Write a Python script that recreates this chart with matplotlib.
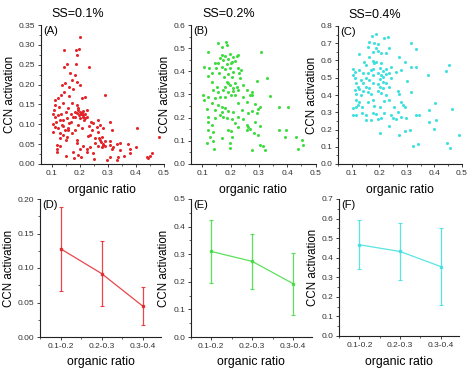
import matplotlib

matplotlib.use("Agg")
import matplotlib.pyplot as plt  # noqa: E402
from matplotlib.ticker import AutoMinorLocator, FormatStrFormatter, MultipleLocator  # noqa: E402

plt.rcParams["font.family"] = ["Liberation Sans", "DejaVu Sans"]

# ---- scatter data (organic ratio vs CCN activation) ----
a_x = [0.202, 0.146, 0.188, 0.199, 0.190, 0.154, 0.146, 0.188, 0.235, 0.166,
       0.184, 0.136, 0.148, 0.172, 0.190, 0.178, 0.164, 0.202, 0.145, 0.113,
       0.124, 0.133, 0.164, 0.208, 0.220, 0.291, 0.113, 0.128, 0.142, 0.172,
       0.190, 0.196, 0.202, 0.208, 0.214, 0.211, 0.199, 0.190, 0.184, 0.220,
       0.226, 0.178, 0.113, 0.124, 0.130, 0.116, 0.142, 0.154, 0.164, 0.113,
       0.124, 0.136, 0.148, 0.160, 0.107, 0.130, 0.142, 0.154, 0.172, 0.184,
       0.196, 0.208, 0.249, 0.261, 0.273, 0.285, 0.267, 0.238, 0.309, 0.315,
       0.279, 0.273, 0.285, 0.279, 0.267, 0.255, 0.238, 0.226, 0.214, 0.202,
       0.190, 0.404, 0.309, 0.333, 0.345, 0.321, 0.315, 0.374, 0.380, 0.402,
       0.380, 0.118, 0.118, 0.121, 0.152, 0.196, 0.204, 0.178, 0.226, 0.249,
       0.309, 0.297, 0.339, 0.333, 0.440, 0.446, 0.452, 0.458, 0.485,
       0.195, 0.205, 0.212, 0.218, 0.185, 0.215, 0.225, 0.200, 0.275, 0.283,
       0.290, 0.270, 0.290, 0.255, 0.245, 0.235, 0.230, 0.150, 0.160, 0.130,
       0.140, 0.105, 0.105, 0.110, 0.135, 0.150, 0.160, 0.170, 0.170, 0.240,
       0.265, 0.310, 0.345, 0.360, 0.250, 0.180, 0.130, 0.190]
a_y = [0.319, 0.287, 0.287, 0.289, 0.274, 0.252, 0.245, 0.253, 0.245, 0.228,
       0.224, 0.200, 0.203, 0.211, 0.207, 0.190, 0.195, 0.199, 0.182, 0.161,
       0.165, 0.174, 0.171, 0.165, 0.168, 0.174, 0.149, 0.143, 0.153, 0.153,
       0.149, 0.136, 0.132, 0.128, 0.123, 0.119, 0.123, 0.128, 0.132, 0.115,
       0.136, 0.119, 0.119, 0.123, 0.111, 0.107, 0.111, 0.115, 0.102, 0.094,
       0.090, 0.098, 0.086, 0.090, 0.081, 0.077, 0.073, 0.069, 0.077, 0.086,
       0.098, 0.090, 0.102, 0.094, 0.098, 0.090, 0.081, 0.073, 0.107, 0.086,
       0.069, 0.060, 0.048, 0.044, 0.045, 0.052, 0.044, 0.039, 0.045, 0.039,
       0.052, 0.090, 0.048, 0.050, 0.052, 0.044, 0.037, 0.050, 0.039, 0.042,
       0.027, 0.048, 0.039, 0.031, 0.020, 0.023, 0.017, 0.031, 0.031, 0.027,
       0.018, 0.010, 0.017, 0.010, 0.018, 0.014, 0.020, 0.027, 0.069,
       0.142, 0.125, 0.133, 0.126, 0.118, 0.112, 0.118, 0.115, 0.055, 0.050,
       0.045, 0.065, 0.058, 0.065, 0.085, 0.095, 0.070, 0.060, 0.085, 0.065,
       0.095, 0.100, 0.125, 0.135, 0.125, 0.130, 0.140, 0.125, 0.105, 0.105,
       0.110, 0.058, 0.035, 0.020, 0.012, 0.015, 0.045, 0.060]

b_x = [0.154, 0.182, 0.186, 0.168, 0.121, 0.307, 0.168, 0.180, 0.198, 0.210,
       0.221, 0.227, 0.162, 0.174, 0.192, 0.204, 0.215, 0.145, 0.157, 0.186,
       0.201, 0.107, 0.124, 0.147, 0.168, 0.180, 0.198, 0.227, 0.237, 0.133,
       0.159, 0.190, 0.210, 0.230, 0.121, 0.178, 0.204, 0.233, 0.327, 0.133,
       0.186, 0.192, 0.215, 0.292, 0.151, 0.180, 0.198, 0.210, 0.221, 0.245,
       0.139, 0.157, 0.174, 0.192, 0.210, 0.227, 0.257, 0.274, 0.277, 0.268,
       0.104, 0.121, 0.107, 0.145, 0.162, 0.180, 0.201, 0.215, 0.245, 0.339,
       0.133, 0.157, 0.168, 0.180, 0.227, 0.257, 0.286, 0.304, 0.115, 0.145,
       0.168, 0.162, 0.192, 0.210, 0.239, 0.263, 0.274, 0.298, 0.292, 0.371,
       0.402, 0.121, 0.145, 0.174, 0.186, 0.204, 0.227, 0.245, 0.121, 0.133,
       0.215, 0.227, 0.257, 0.263, 0.286, 0.304, 0.121, 0.139, 0.192, 0.201,
       0.257, 0.268, 0.371, 0.394, 0.284, 0.298, 0.127, 0.168, 0.204, 0.392,
       0.430, 0.451, 0.457, 0.439, 0.115, 0.139, 0.198, 0.304, 0.316, 0.142,
       0.198, 0.274, 0.321]
b_y = [0.521, 0.528, 0.514, 0.507, 0.485, 0.482, 0.471, 0.466, 0.473, 0.463,
       0.466, 0.471, 0.456, 0.449, 0.452, 0.442, 0.446, 0.435, 0.437, 0.432,
       0.435, 0.420, 0.413, 0.413, 0.420, 0.409, 0.413, 0.413, 0.406, 0.394,
       0.391, 0.389, 0.399, 0.391, 0.380, 0.377, 0.377, 0.370, 0.370, 0.355,
       0.355, 0.348, 0.351, 0.358, 0.334, 0.334, 0.341, 0.327, 0.334, 0.341,
       0.319, 0.312, 0.319, 0.312, 0.317, 0.319, 0.319, 0.312, 0.298, 0.298,
       0.298, 0.291, 0.276, 0.283, 0.291, 0.291, 0.298, 0.298, 0.291, 0.294,
       0.262, 0.255, 0.245, 0.240, 0.262, 0.269, 0.259, 0.248, 0.236, 0.233,
       0.226, 0.212, 0.230, 0.226, 0.233, 0.222, 0.230, 0.236, 0.219, 0.248,
       0.248, 0.204, 0.197, 0.204, 0.197, 0.193, 0.201, 0.193, 0.183, 0.168,
       0.176, 0.161, 0.168, 0.158, 0.183, 0.164, 0.147, 0.140, 0.147, 0.144,
       0.147, 0.150, 0.147, 0.147, 0.132, 0.125, 0.118, 0.111, 0.118, 0.118,
       0.118, 0.104, 0.082, 0.063, 0.089, 0.101, 0.092, 0.082, 0.078, 0.063,
       0.071, 0.060, 0.060]

c_x = [0.174, 0.188, 0.164, 0.182, 0.195, 0.219, 0.231, 0.158, 0.316, 0.332,
       0.125, 0.176, 0.195, 0.207, 0.225, 0.237, 0.188, 0.164, 0.271, 0.146,
       0.176, 0.182, 0.188, 0.207, 0.295, 0.150, 0.243, 0.316, 0.334, 0.104,
       0.110, 0.128, 0.170, 0.176, 0.201, 0.213, 0.225, 0.455, 0.441, 0.104,
       0.140, 0.158, 0.176, 0.195, 0.207, 0.225, 0.237, 0.261, 0.279, 0.376,
       0.110, 0.134, 0.152, 0.164, 0.201, 0.213, 0.243, 0.300, 0.116, 0.140,
       0.176, 0.195, 0.213, 0.225, 0.122, 0.152, 0.164, 0.201, 0.213, 0.237,
       0.113, 0.128, 0.142, 0.158, 0.195, 0.267, 0.316, 0.116, 0.134, 0.170,
       0.207, 0.225, 0.273, 0.116, 0.128, 0.122, 0.158, 0.176, 0.219, 0.237,
       0.279, 0.285, 0.403, 0.104, 0.116, 0.138, 0.182, 0.201, 0.255, 0.292,
       0.382, 0.465, 0.104, 0.116, 0.138, 0.152, 0.176, 0.188, 0.219, 0.243,
       0.267, 0.334, 0.346, 0.152, 0.170, 0.195, 0.207, 0.249, 0.261, 0.279,
       0.298, 0.380, 0.407, 0.237, 0.292, 0.312, 0.398, 0.201, 0.273, 0.324,
       0.340, 0.489, 0.447, 0.458]
c_y = [0.742, 0.753, 0.709, 0.699, 0.696, 0.728, 0.734, 0.676, 0.699, 0.665,
       0.638, 0.651, 0.657, 0.645, 0.641, 0.670, 0.670, 0.622, 0.622, 0.593,
       0.599, 0.587, 0.593, 0.583, 0.593, 0.574, 0.564, 0.564, 0.560, 0.549,
       0.535, 0.545, 0.545, 0.549, 0.554, 0.541, 0.549, 0.574, 0.541, 0.516,
       0.525, 0.529, 0.516, 0.525, 0.516, 0.522, 0.525, 0.535, 0.545, 0.516,
       0.497, 0.487, 0.497, 0.487, 0.491, 0.502, 0.497, 0.483, 0.468, 0.468,
       0.471, 0.464, 0.477, 0.468, 0.448, 0.448, 0.439, 0.448, 0.439, 0.448,
       0.429, 0.433, 0.425, 0.419, 0.425, 0.425, 0.419, 0.406, 0.400, 0.406,
       0.410, 0.400, 0.406, 0.371, 0.361, 0.342, 0.361, 0.371, 0.367, 0.371,
       0.361, 0.342, 0.355, 0.323, 0.328, 0.328, 0.336, 0.332, 0.332, 0.328,
       0.313, 0.317, 0.284, 0.284, 0.294, 0.284, 0.294, 0.290, 0.298, 0.284,
       0.303, 0.284, 0.284, 0.255, 0.255, 0.259, 0.265, 0.265, 0.259, 0.274,
       0.265, 0.245, 0.255, 0.220, 0.193, 0.197, 0.201, 0.178, 0.168, 0.104,
       0.114, 0.168, 0.120, 0.091]

# ---- binned means with error bars ----
bins = ["0.1-0.2", "0.2-0.3", "0.3-0.4"]
d_mean = [0.128, 0.092, 0.045]
d_err = [0.061, 0.047, 0.028]
e_mean = [0.310, 0.274, 0.193]
e_err = [0.115, 0.100, 0.113]
f_mean = [0.466, 0.432, 0.355]
f_err = [0.125, 0.145, 0.196]

titles = ["SS=0.1%", "SS=0.2%", "SS=0.4%"]

RED = "#e3262b"
GREEN = "#3fdc3f"
CYAN = "#3ee0e0"
W, H = 469.0, 369.0


def px_axes(fig, left, top, width, height):
    return fig.add_axes([left / W, 1 - (top + height) / H, width / W, height / H])


def style(ax, ymax, ystep, fmt):
    for side in ("top", "right"):
        ax.spines[side].set_visible(False)
    for side in ("left", "bottom"):
        ax.spines[side].set_linewidth(0.8)
        ax.spines[side].set_color("#222222")
    ax.set_ylim(0, ymax)
    ax.yaxis.set_major_locator(MultipleLocator(ystep))
    ax.yaxis.set_minor_locator(AutoMinorLocator(2))
    ax.yaxis.set_major_formatter(FormatStrFormatter(fmt))
    ax.tick_params(which="major", direction="out", length=2.5, width=0.6,
                   labelsize=6, labelcolor="#333333", pad=1.5, colors="#222222")
    ax.tick_params(which="minor", direction="out", length=1.3, width=0.5, colors="#222222")
    ax.tick_params(axis="both", labelcolor="#333333")
    ax.set_ylabel("CCN activation", fontsize=8.3, labelpad=2)
    ax.set_xlabel("organic ratio", fontsize=8.8, labelpad=5)


fig = plt.figure(figsize=(4.69, 3.69), dpi=100)

# top row: scatter panels
scatter_sets = [
    (a_x, a_y, RED, 41, 25, 122.5, 139, (0.0625, 0.5), 0.35, 0.05, "%.2f", "(A)"),
    (b_x, b_y, GREEN, 191, 25, 124.5, 139, (0.06, 0.5), 0.6, 0.1, "%.1f", "(B)"),
    (c_x, c_y, CYAN, 338, 26, 123.8, 138, (0.05, 0.5), 0.8, 0.1, "%.1f", "(C)"),
]
for i, (xs, ys, col, l, t, w, h, xlim, ymax, ystep, fmt, tag) in enumerate(scatter_sets):
    ax = px_axes(fig, l, t, w, h)
    ax.plot(xs, ys, "o", ms=2.2, mec="none", mfc=col, clip_on=False)
    ax.set_xlim(*xlim)
    ax.xaxis.set_major_locator(MultipleLocator(0.1))
    ax.xaxis.set_minor_locator(MultipleLocator(0.05))
    style(ax, ymax, ystep, fmt)
    ax.text(0.02, 0.99, tag, transform=ax.transAxes, fontsize=8, va="top", ha="left")
    ax.text(0.3, 1.08, titles[i], transform=ax.transAxes, fontsize=9, ha="center", va="center")

# bottom row: binned means
bin_sets = [
    (d_mean, d_err, RED, 40, 199, 121, 138, 0.2, 0.05, "%.2f", "(D)"),
    (e_mean, e_err, GREEN, 190.7, 199, 121, 138, 0.5, 0.1, "%.1f", "(E)"),
    (f_mean, f_err, CYAN, 339, 199, 120, 137, 0.7, 0.1, "%.1f", "(F)"),
]
pos = [1, 2, 3]
for mean, err, col, l, t, w, h, ymax, ystep, fmt, tag in bin_sets:
    ax = px_axes(fig, l, t, w, h)
    ax.errorbar(pos, mean, yerr=err, color=col, lw=0.9, elinewidth=0.9,
                capsize=1.2, capthick=0.8, marker="s", ms=1.6, alpha=0.85)
    ax.set_xlim(0.5, 3.45)
    ax.set_xticks(pos)
    ax.set_xticklabels(bins)
    ax.xaxis.set_minor_locator(MultipleLocator(0.5))
    style(ax, ymax, ystep, fmt)
    ax.text(0.02, 0.99, tag, transform=ax.transAxes, fontsize=8, va="top", ha="left")

fig.savefig("out.png", dpi=100)
